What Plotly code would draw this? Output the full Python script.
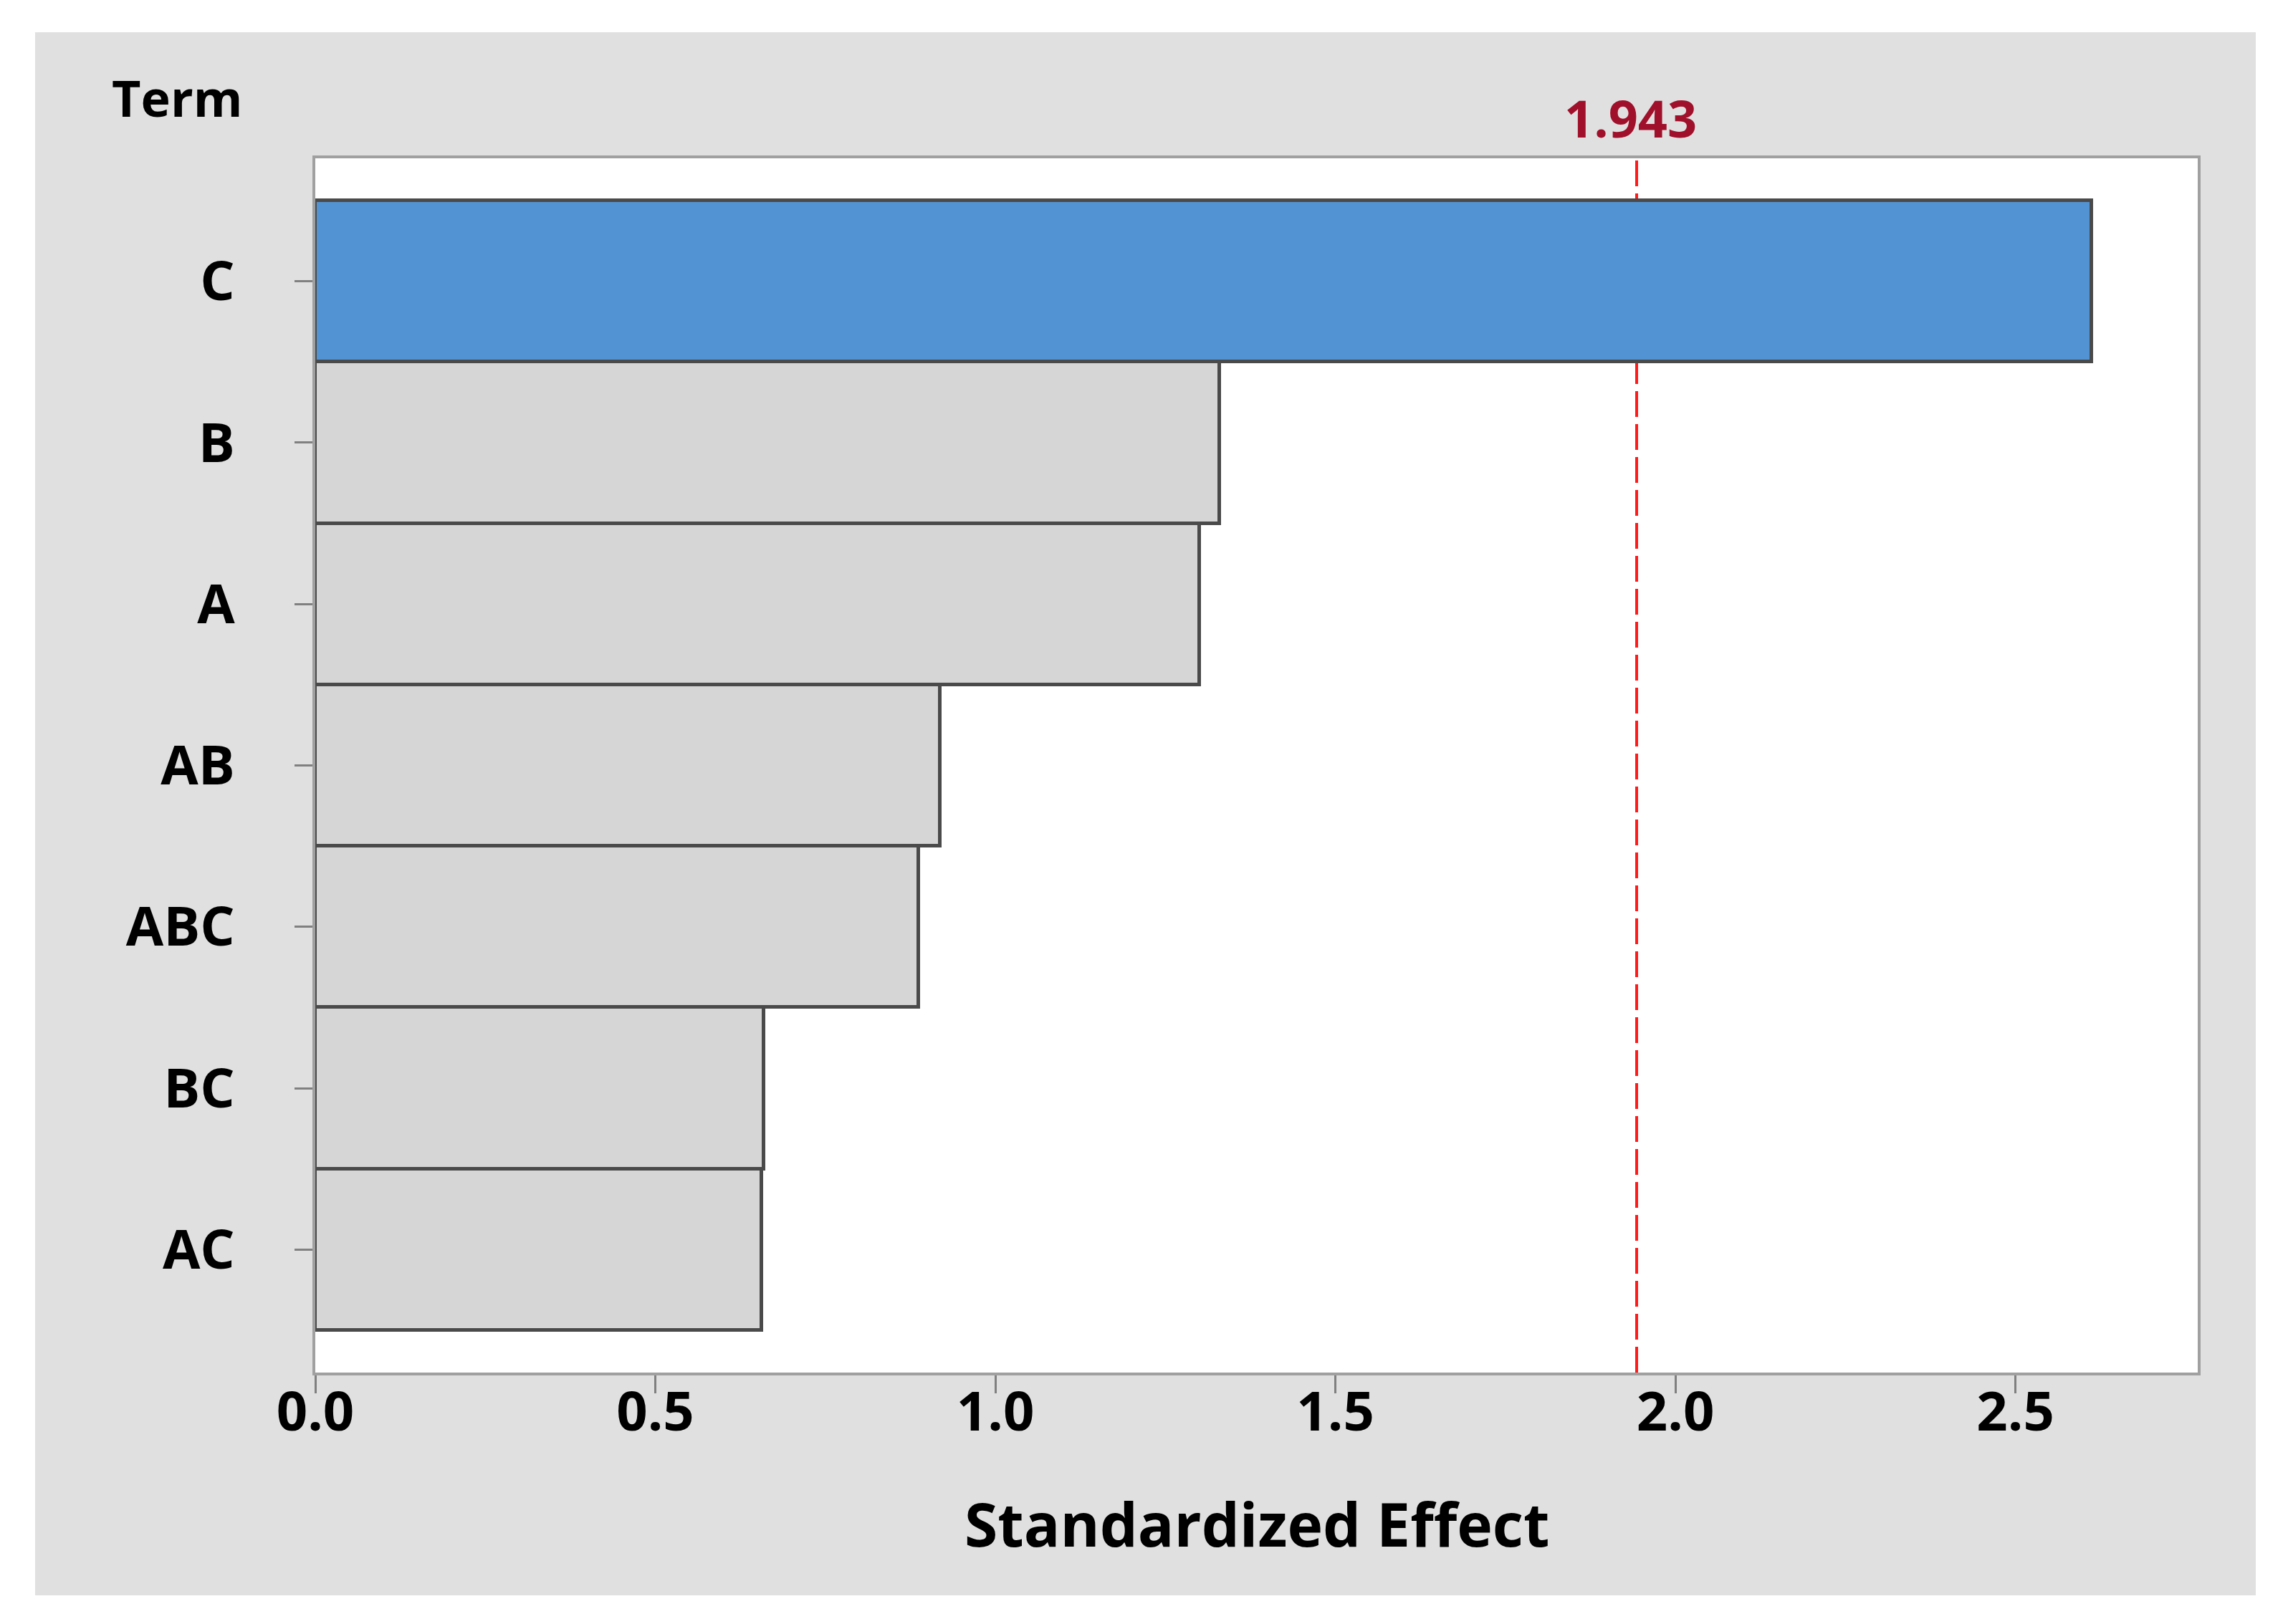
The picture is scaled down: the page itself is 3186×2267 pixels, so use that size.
import plotly.graph_objects as go

# ---- data ----
terms = ["C", "B", "A", "AB", "ABC", "BC", "AC"]
effects = [2.612, 1.330, 1.300, 0.919, 0.887, 0.660, 0.656]
significant = [True, False, False, False, False, False, False]
threshold = 1.943
threshold_label = "1.943"
x_ticks = [0.0, 0.5, 1.0, 1.5, 2.0, 2.5]
x_tick_labels = ["0.0", "0.5", "1.0", "1.5", "2.0", "2.5"]
x_title = "Standardized Effect"
y_title = "Term"
x_range = [0, 2.768]
y_range = [6.762, -0.762]

# ---- layout constants (pixels) ----
W, H = 3186, 2267
L, R, T, B = 432, 3059, 213, 1908
FONT = "Open Sans"
pw, ph = R - L, B - T


def px_x(x):
    return (x - L) / pw


def px_y(y):
    return (B - y) / ph


colors = ["#5294D3" if s else "#D6D6D6" for s in significant]

fig = go.Figure()
fig.add_trace(go.Bar(
    x=effects, y=terms, orientation="h",
    marker=dict(color=colors, line=dict(color="#4A4A4A", width=5)),
    width=1.0, showlegend=False, hoverinfo="x+y",
))
# helper trace so the label-only axis is drawn
fig.add_trace(go.Scatter(x=[None], y=[None], xaxis="x2", yaxis="y",
                         showlegend=False, hoverinfo="skip"))

tickfont = dict(size=76, family=FONT, weight="bold", color="black")

fig.update_layout(
    width=W, height=H,
    margin=dict(l=L, r=W - R, t=T, b=H - B, pad=0),
    paper_bgcolor="white", plot_bgcolor="white",
    font=dict(family=FONT, color="black"),
    bargap=0,
    xaxis=dict(
        range=x_range, tickmode="array", tickvals=x_ticks, ticktext=x_tick_labels,
        showticklabels=False,
        showgrid=False, zeroline=False,
        showline=True, linecolor="#A0A0A0", linewidth=4, mirror=True,
        ticks="outside", ticklen=25, tickwidth=3, tickcolor="#808080",
    ),
    xaxis2=dict(
        range=x_range, overlaying="x", anchor="free", position=0, side="bottom",
        tickmode="array", tickvals=x_ticks, ticktext=x_tick_labels,
        showgrid=False, zeroline=False, showline=False, ticks="",
        tickfont=tickfont, ticklabelstandoff=4,
    ),
    yaxis=dict(
        type="category", categoryorder="array", categoryarray=terms,
        range=y_range, autorange=False,
        showgrid=False, zeroline=False,
        showline=True, linecolor="#A0A0A0", linewidth=4, mirror=True,
        ticks="outside", ticklen=25, tickwidth=3, tickcolor="#808080",
        tickfont=tickfont,
        ticklabelstandoff=68,
    ),
    shapes=[
        dict(type="rect", xref="paper", yref="paper", layer="below",
             x0=px_x(41), x1=px_x(3140), y0=px_y(2219), y1=px_y(37),
             fillcolor="#E0E0E0", line=dict(width=0)),
        dict(type="rect", xref="paper", yref="paper", layer="below",
             x0=0, x1=1, y0=0, y1=1,
             fillcolor="white", line=dict(width=0)),
        dict(type="line", xref="x", yref="paper", layer="below",
             x0=threshold, x1=threshold, y0=0, y1=1,
             line=dict(color="#FF1A1A", width=4, dash="36px,10px")),
    ],
    annotations=[
        dict(text=x_title, xref="paper", yref="paper", x=0.5, y=px_y(2118),
             xanchor="center", yanchor="middle", showarrow=False,
             font=dict(size=84, family=FONT, weight="bold", color="black")),
        dict(text=y_title, xref="paper", yref="paper", x=px_x(146), y=px_y(128),
             xanchor="left", yanchor="middle", showarrow=False,
             font=dict(size=70, family=FONT, weight="bold", color="black")),
        dict(text=threshold_label, xref="x", yref="paper", x=threshold, y=px_y(156),
             xanchor="center", yanchor="middle", showarrow=False, xshift=-9,
             font=dict(size=72, family=FONT, weight="bold", color="#A0102A")),
    ],
)

fig.write_html("out.html")
